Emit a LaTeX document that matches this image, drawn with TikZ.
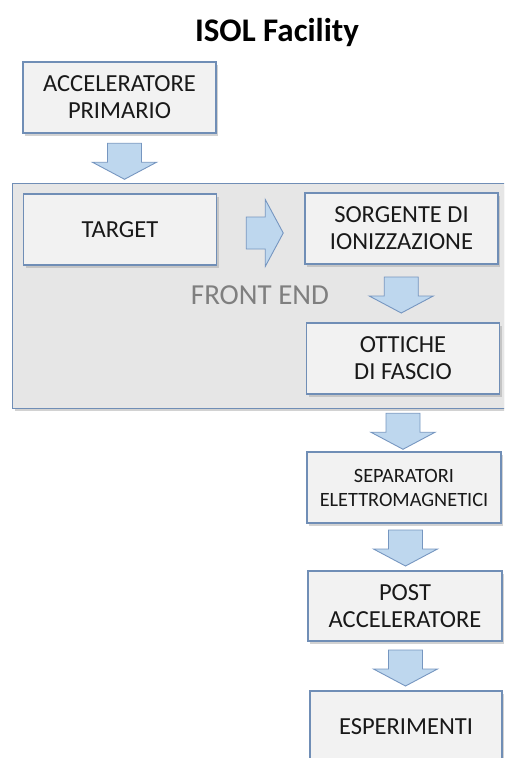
\documentclass[tikz,border=0pt]{standalone}
\usepackage{fontspec}
\setmainfont{Carlito}
\usetikzlibrary{calc,shadows}

\definecolor{boxedge}{RGB}{112,142,182}
\definecolor{boxfill}{RGB}{242,242,242}
\definecolor{fefill}{RGB}{230,230,230}
\definecolor{arrfill}{RGB}{190,215,238}
\definecolor{arredge}{RGB}{118,150,192}
\definecolor{fetext}{RGB}{127,127,127}

\tikzset{
  stage/.style={draw=boxedge, fill=boxfill, line width=1.1pt, minimum width=193,
    minimum height=71, inner sep=0pt, align=center, text=black!90,
    font=\fontsize{24.5}{27}\selectfont,
    drop shadow={shadow xshift=2pt, shadow yshift=-2.5pt, fill=black!35, opacity=.5}},
  blockarrow/.style={fill=arrfill, draw=arredge, line width=0.9pt, line join=miter}
}

% block arrows, centred on a named coordinate
\newcommand{\blkdown}[1]{%
  \filldraw[blockarrow, shift={(#1)}] (-17,-18) -- (17,-18) -- (17,1) -- (32,1)
    -- (0,18) -- (-32,1) -- (-17,1) -- cycle;}
\newcommand{\blkright}[1]{%
  \filldraw[blockarrow, shift={(#1)}] (-18.5,-16) -- (0.5,-16) -- (0.5,-33.5)
    -- (18.5,0) -- (0.5,33.5) -- (0.5,16) -- (-18.5,16) -- cycle;}

\begin{document}
\begin{tikzpicture}[x=1pt,y=-1pt]
\useasboundingbox (0,0) rectangle (504,758);
\clip (0,0) rectangle (504,758);

\node[font=\fontsize{33}{36}\selectfont\bfseries] (title) at (277,33) {ISOL Facility};

% front end frame
\node[draw=boxedge, fill=fefill, line width=1.1pt, minimum width=500, minimum height=225,
  inner sep=0pt, anchor=north west,
  drop shadow={shadow xshift=2pt, shadow yshift=-2.5pt, fill=black!35, opacity=.5}]
  (fe) at (12,183) {};
\node[text=fetext, font=\fontsize{29}{31}\selectfont] (felabel) at (260,295) {FRONT END};

\node[stage] (prim) at (119.5,97.5) {ACCELERATORE\\PRIMARIO};
\node[stage] (tgt) at (120,229.5) {TARGET};
\node[stage] (sorg) at (401.5,228.5) {SORGENTE DI\\IONIZZAZIONE};
\node[stage] (ott) at (403,358.5) {OTTICHE\\DI FASCIO};
\node[stage, minimum width=194, font=\fontsize{20.3}{24}\selectfont] (sep) at (404,487.5)
  {SEPARATORI\\ELETTROMAGNETICI};
\node[stage, minimum width=194, minimum height=70] (post) at (405,606) {POST\\ACCELERATORE};
\node[stage, minimum width=192, minimum height=80] (esp) at (406,731)
  {\raisebox{8pt}{ESPERIMENTI}};

% arrows between the stages
\coordinate (a1) at ($(prim.south)!0.5!(prim.south|-fe.north)+(5,3)$);
\coordinate (a2) at ($(tgt.east)!0.5!(sorg.west)+(4,4)$);
\coordinate (a3) at ($(sorg.south)!0.5!(ott.north)+(-1,1.5)$);
\coordinate (a4) at ($(sep.north)!0.5!(sep.north|-fe.south)+(-1,1)$);
\coordinate (a5) at ($(sep.south)!0.5!(post.north)+(1,1)$);
\coordinate (a6) at ($(post.south)!0.5!(esp.north)+(0,2)$);

\blkdown{a1}
\blkright{a2}
\blkdown{a3}
\blkdown{a4}
\blkdown{a5}
\blkdown{a6}

\end{tikzpicture}
\end{document}
